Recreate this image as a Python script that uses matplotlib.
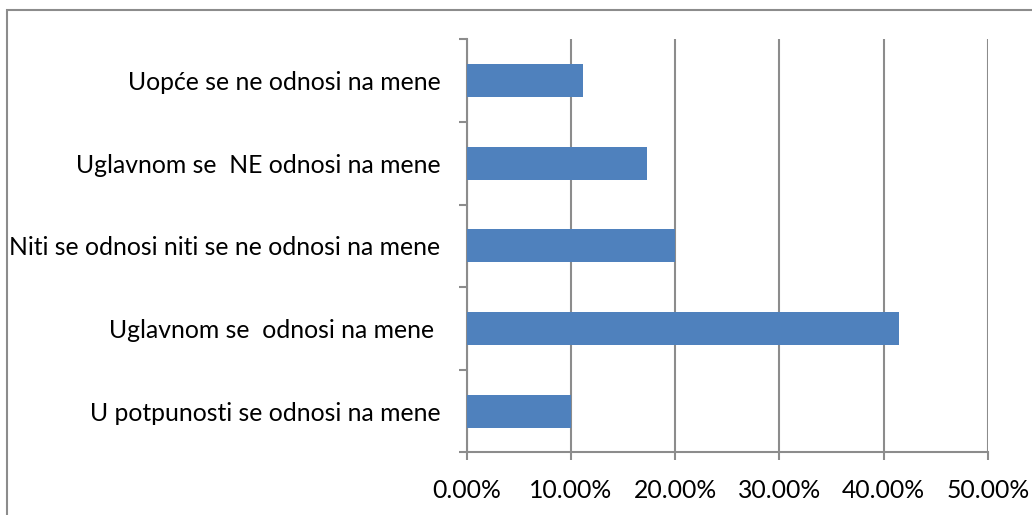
import matplotlib.pyplot as plt
from matplotlib.patches import Rectangle
from matplotlib.ticker import FuncFormatter

categories = [
    "U potpunosti se odnosi na mene",
    "Uglavnom se  odnosi na mene ",
    "Niti se odnosi niti se ne odnosi na mene",
    "Uglavnom se  NE odnosi na mene",
    "Uopće se ne odnosi na mene",
]
values = [0.100, 0.415, 0.200, 0.173, 0.112]
xticks = [0.0, 0.1, 0.2, 0.3, 0.4, 0.5]

plt.rcParams['font.family'] = ['Lato', 'DejaVu Sans']
grey = "#8c8c8c"

fig = plt.figure(figsize=(10.32, 5.15), dpi=100)
ax = fig.add_axes([0.4522, 0.1217, 0.5049, 0.802])

ypos = list(range(len(categories)))
ax.barh(ypos, values, height=0.4, color="#4f81bd", zorder=3)

ax.set_xlim(0, 0.5)
ax.set_ylim(-0.5, len(categories) - 0.5)
ax.set_xticks(xticks)
ax.xaxis.set_major_formatter(FuncFormatter(lambda v, p: f"{v * 100:.2f}%"))
ax.set_yticks(ypos)
ax.set_yticklabels(categories)
ax.set_yticks([y - 0.5 for y in range(len(categories) + 1)], minor=True)

ax.tick_params(axis="y", which="major", length=0, pad=19, labelsize=17.8)
ax.tick_params(axis="y", which="minor", length=6, width=1.5, color=grey)
ax.tick_params(axis="x", length=6, width=1.5, color=grey, labelsize=17.8, pad=13)

ax.grid(axis="x", color=grey, linewidth=1.5, zorder=0)
for s in ["top", "right"]:
    ax.spines[s].set_visible(False)
for s in ["left", "bottom"]:
    ax.spines[s].set_color(grey)
    ax.spines[s].set_linewidth(1.5)

fig.patches.append(Rectangle((7 / 1032, -0.1), 1.2, (515 - 10) / 515 + 0.1,
                             transform=fig.transFigure, fill=False,
                             edgecolor=grey, linewidth=1.5))

fig.savefig("out.png", dpi=100)
